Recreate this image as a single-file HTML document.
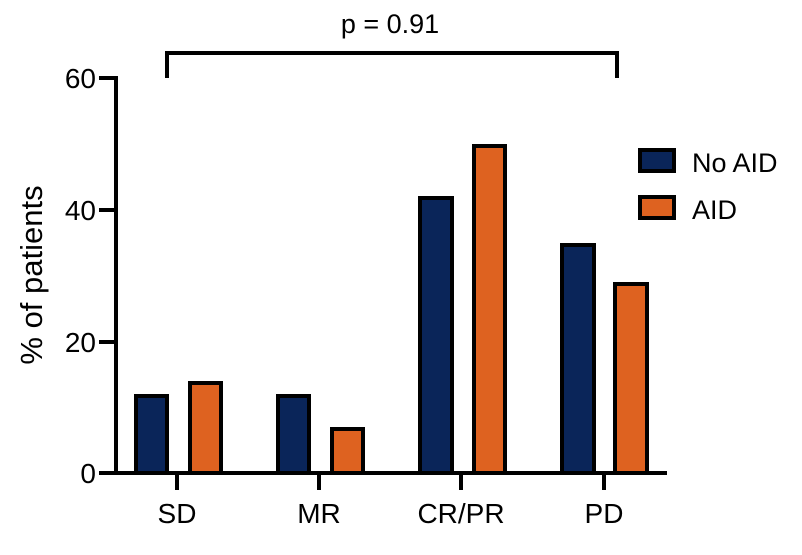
<!DOCTYPE html>
<html><head><style>body{margin:0;background:#fff}</style></head><body>
<svg width="802" height="550" xmlns="http://www.w3.org/2000/svg" font-family="Liberation Sans, Arial, sans-serif">
<g stroke="#000" stroke-width="4" fill="none">
<line x1="116" y1="76" x2="116" y2="475"/>
<line x1="114" y1="473" x2="667" y2="473"/>
<line x1="99" y1="78" x2="116" y2="78"/>
<line x1="99" y1="210" x2="116" y2="210"/>
<line x1="99" y1="342" x2="116" y2="342"/>
<line x1="99" y1="473" x2="116" y2="473"/>
<line x1="177" y1="473" x2="177" y2="490"/>
<line x1="319" y1="473" x2="319" y2="490"/>
<line x1="461" y1="473" x2="461" y2="490"/>
<line x1="604" y1="473" x2="604" y2="490"/>
<polyline points="167,78 167,53 617,53 617,78"/>
</g>
<g stroke="#000" stroke-width="4">
<rect x="136" y="396" width="31" height="77" fill="#0a2559"/>
<rect x="190" y="383" width="31" height="90" fill="#de6220"/>
<rect x="278" y="396" width="31" height="77" fill="#0a2559"/>
<rect x="332" y="429" width="31" height="44" fill="#de6220"/>
<rect x="420" y="198" width="32" height="275" fill="#0a2559"/>
<rect x="474" y="146" width="31" height="327" fill="#de6220"/>
<rect x="562" y="245" width="32" height="228" fill="#0a2559"/>
<rect x="615" y="284" width="32" height="189" fill="#de6220"/>
<rect x="640" y="150" width="34" height="21" fill="#0a2559"/>
<rect x="640" y="197" width="34" height="21" fill="#de6220"/>
</g>
<g font-size="28" fill="#000">
<text x="96" y="88" text-anchor="end">60</text>
<text x="96" y="220" text-anchor="end">40</text>
<text x="96" y="352" text-anchor="end">20</text>
<text x="96" y="483" text-anchor="end">0</text>
<text x="177" y="523" text-anchor="middle">SD</text>
<text x="319" y="523" text-anchor="middle">MR</text>
<text x="461" y="523" text-anchor="middle">CR/PR</text>
<text x="604" y="523" text-anchor="middle">PD</text>
<text x="390" y="33" text-anchor="middle" font-size="27">p = 0.91</text>
<text x="692" y="172" font-size="27">No AID</text>
<text x="692" y="219" font-size="27">AID</text>
<text transform="translate(42,275) rotate(-90)" text-anchor="middle" font-size="31">% of patients</text>
</g>
</svg>
</body></html>
